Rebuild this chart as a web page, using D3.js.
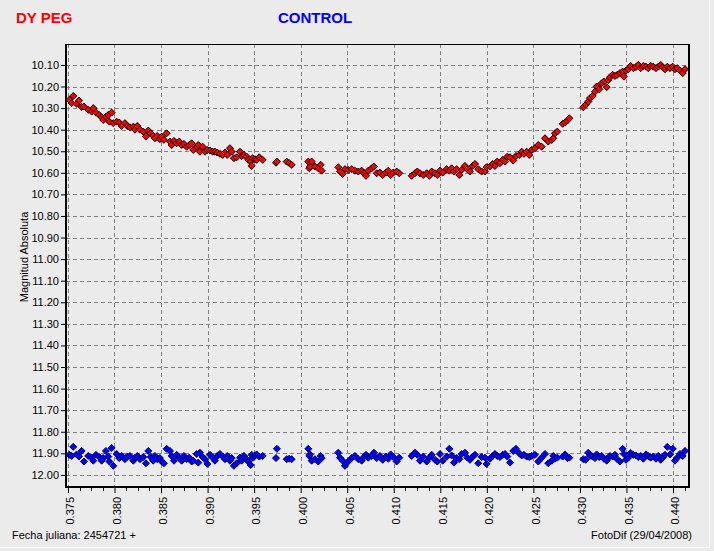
<!DOCTYPE html>
<html>
<head>
<meta charset="utf-8">
<script src="https://cdn.jsdelivr.net/npm/d3@7"></script>
<style>
  body { margin: 0; background: #ebebeb; }
  svg text { font-family: "Liberation Sans", Arial, sans-serif; }
</style>
</head>
<body>
<svg id="chart" width="714" height="551"></svg>
<script>
//============== data ===============//

// julian date fraction (JD 2454721 + t), same frames for both stars
const jd = [
  // run 1
  0.37514, 0.37540, 0.37557, 0.37593, 0.37618, 0.37647, 0.37672, 0.37718, 0.37755, 0.37772,
  0.37801, 0.37836, 0.37862, 0.37879, 0.37908, 0.37933, 0.37945, 0.37969, 0.37987, 0.38023,
  0.38051, 0.38077, 0.38112, 0.38137, 0.38166, 0.38202, 0.38220, 0.38245, 0.38274, 0.38309,
  0.38338, 0.38363, 0.38389, 0.38416, 0.38435, 0.38459, 0.38488, 0.38507, 0.38531, 0.38560,
  0.38596, 0.38614, 0.38639, 0.38668, 0.38696, 0.38722, 0.38746, 0.38775, 0.38803, 0.38829,
  0.38846, 0.38883, 0.38900, 0.38918, 0.38947, 0.38972, 0.38997, 0.39026, 0.39055, 0.39079,
  0.39104, 0.39133, 0.39162, 0.39187, 0.39211, 0.39240, 0.39259, 0.39283, 0.39312, 0.39348,
  0.39366, 0.39391, 0.39420, 0.39437, 0.39463, 0.39474, 0.39484, 0.39509, 0.39527, 0.39555,
  0.39592,
  // sparse
  0.39735, 0.39745, 0.39850, 0.39877, 0.39903,
  // run 2
  0.40082, 0.40093, 0.40100, 0.40118, 0.40154, 0.40189, 0.40215, 0.40226,
  // run 3
  0.40404, 0.40422, 0.40451, 0.40476, 0.40511, 0.40548, 0.40583, 0.40619, 0.40655, 0.40680,
  0.40702, 0.40726, 0.40763, 0.40787, 0.40817, 0.40852, 0.40881, 0.40916, 0.40941, 0.40967,
  0.40995, 0.41031, 0.41059,
  // run 4
  0.41193, 0.41228, 0.41253, 0.41282, 0.41317, 0.41354, 0.41382, 0.41408, 0.41443, 0.41468,
  0.41497, 0.41526, 0.41569, 0.41597, 0.41622, 0.41647, 0.41676, 0.41704, 0.41730, 0.41765,
  0.41790, 0.41819, 0.41848, 0.41873, 0.41908, 0.41945, 0.41980, 0.41998, 0.42034, 0.42063,
  0.42087, 0.42112, 0.42141, 0.42170, 0.42195, 0.42220, 0.42249, 0.42284, 0.42313, 0.42349,
  0.42374, 0.42399, 0.42428, 0.42456,
  // run 5
  0.42482, 0.42517, 0.42553, 0.42589, 0.42625, 0.42660, 0.42697, 0.42714, 0.42732, 0.42757,
  0.42815, 0.42840, 0.42865, 0.42886,
  // run 6
  0.43036, 0.43062, 0.43090, 0.43108, 0.43137, 0.43162, 0.43180, 0.43208, 0.43234, 0.43258,
  0.43288, 0.43305, 0.43323, 0.43352, 0.43377, 0.43401, 0.43430, 0.43459, 0.43473, 0.43495,
  0.43520, 0.43545, 0.43574, 0.43602, 0.43627, 0.43653, 0.43681, 0.43710, 0.43734, 0.43760,
  0.43788, 0.43817, 0.43842, 0.43868, 0.43889, 0.43914, 0.43939, 0.43968, 0.43997, 0.44021,
  0.44046, 0.44075, 0.44104, 0.44129
];

// DY Peg magnitudes
const dyPeg = [
  10.262, 10.277, 10.244, 10.280, 10.265, 10.295, 10.293, 10.308, 10.316, 10.300,
  10.321, 10.332, 10.342, 10.355, 10.340, 10.332, 10.363, 10.321, 10.370, 10.363,
  10.367, 10.383, 10.370, 10.383, 10.389, 10.386, 10.400, 10.383, 10.400, 10.409,
  10.432, 10.404, 10.417, 10.429, 10.440, 10.429, 10.444, 10.432, 10.447, 10.417,
  10.455, 10.471, 10.452, 10.463, 10.455, 10.471, 10.466, 10.479, 10.471, 10.463,
  10.494, 10.479, 10.471, 10.502, 10.479, 10.502, 10.494, 10.497, 10.502, 10.502,
  10.506, 10.512, 10.517, 10.506, 10.517, 10.486, 10.502, 10.532, 10.528, 10.502,
  10.522, 10.517, 10.525, 10.540, 10.548, 10.568, 10.532, 10.537, 10.540, 10.528,
  10.540,
  10.553, 10.548, 10.548, 10.555, 10.563,
  10.548, 10.579, 10.571, 10.548, 10.571, 10.579, 10.563, 10.590,
  10.574, 10.594, 10.605, 10.583, 10.587, 10.583, 10.590, 10.594, 10.590, 10.602,
  10.614, 10.590, 10.579, 10.571, 10.602, 10.599, 10.610, 10.599, 10.590, 10.610,
  10.599, 10.594, 10.602,
  10.614, 10.602, 10.594, 10.602, 10.610, 10.602, 10.614, 10.594, 10.602, 10.610,
  10.590, 10.599, 10.583, 10.590, 10.579, 10.594, 10.583, 10.610, 10.587, 10.568,
  10.583, 10.594, 10.568, 10.559, 10.583, 10.594, 10.594, 10.574, 10.571, 10.559,
  10.568, 10.548, 10.555, 10.540, 10.548, 10.525, 10.528, 10.543, 10.522, 10.517,
  10.502, 10.512, 10.502, 10.517,
  10.494, 10.486, 10.471, 10.479, 10.440, 10.455, 10.448, 10.440, 10.417, 10.409,
  10.373, 10.367, 10.358, 10.347,
  10.296, 10.285, 10.270, 10.254, 10.244, 10.224, 10.200, 10.213, 10.185, 10.177,
  10.203, 10.170, 10.157, 10.146, 10.151, 10.146, 10.138, 10.131, 10.154, 10.126,
  10.120, 10.105, 10.115, 10.110, 10.100, 10.115, 10.105, 10.108, 10.115, 10.105,
  10.108, 10.115, 10.108, 10.100, 10.111, 10.120, 10.108, 10.115, 10.108, 10.120,
  10.115, 10.126, 10.138, 10.120
];

// control star magnitudes
const control = [
  11.907, 11.912, 11.870, 11.905, 11.915, 11.889, 11.938, 11.912, 11.920, 11.934,
  11.907, 11.917, 11.934, 11.922, 11.889, 11.915, 11.938, 11.875, 11.958, 11.903,
  11.922, 11.912, 11.927, 11.915, 11.912, 11.934, 11.920, 11.912, 11.927, 11.917,
  11.946, 11.889, 11.917, 11.934, 11.912, 11.927, 11.922, 11.938, 11.946, 11.879,
  11.889, 11.912, 11.934, 11.907, 11.920, 11.934, 11.912, 11.927, 11.920, 11.938,
  11.934, 11.903, 11.943, 11.897, 11.917, 11.927, 11.949, 11.907, 11.920, 11.934,
  11.912, 11.903, 11.915, 11.927, 11.912, 11.934, 11.922, 11.958, 11.946, 11.920,
  11.934, 11.912, 11.927, 11.938, 11.954, 11.907, 11.920, 11.912, 11.905, 11.915,
  11.912,
  11.922, 11.879, 11.927, 11.925, 11.927,
  11.879, 11.912, 11.905, 11.934, 11.927, 11.938, 11.912, 11.922,
  11.897, 11.920, 11.934, 11.958, 11.938, 11.922, 11.912, 11.927, 11.934, 11.917,
  11.907, 11.920, 11.912, 11.897, 11.922, 11.912, 11.930, 11.915, 11.925, 11.905,
  11.917, 11.938, 11.920,
  11.912, 11.897, 11.907, 11.934, 11.915, 11.938, 11.920, 11.907, 11.930, 11.938,
  11.903, 11.934, 11.915, 11.879, 11.910, 11.943, 11.922, 11.927, 11.903, 11.897,
  11.920, 11.930, 11.915, 11.907, 11.946, 11.917, 11.920, 11.949, 11.925, 11.912,
  11.903, 11.912, 11.917, 11.907, 11.903, 11.915, 11.943, 11.889, 11.879, 11.900,
  11.910, 11.907, 11.915, 11.917,
  11.912, 11.907, 11.938, 11.920, 11.903, 11.946, 11.934, 11.912, 11.925, 11.920,
  11.915, 11.905, 11.922, 11.920,
  11.927, 11.930, 11.897, 11.912, 11.915, 11.922, 11.905, 11.917, 11.912, 11.925,
  11.934, 11.920, 11.912, 11.915, 11.907, 11.927, 11.938, 11.879, 11.903, 11.930,
  11.920, 11.898, 11.907, 11.910, 11.917, 11.912, 11.925, 11.905, 11.912, 11.920,
  11.915, 11.925, 11.912, 11.930, 11.920, 11.907, 11.870, 11.905, 11.879, 11.934,
  11.920, 11.903, 11.912, 11.889
];

const xTicks = [0.375, 0.380, 0.385, 0.390, 0.395, 0.400, 0.405, 0.410, 0.415, 0.420, 0.425, 0.430, 0.435, 0.440];
const yTicks = [10.10, 10.20, 10.30, 10.40, 10.50, 10.60, 10.70, 10.80, 10.90, 11.00,
                11.10, 11.20, 11.30, 11.40, 11.50, 11.60, 11.70, 11.80, 11.90, 12.00];

//============== layout ===============//

const svg = d3.select('#chart');
const box = {left: 66, right: 689, top: 44, bottom: 487};

const x = d3.scaleLinear().domain([0.37479, 0.44172]).range([box.left, box.right]);
const y = d3.scaleLinear().domain([10.003, 12.056]).range([box.top, box.bottom]);

svg.append('rect').attr('width', 714).attr('height', 551).attr('fill', '#ebebeb');
// panel edge
svg.append('path').attr('d', 'M0,547.5H709.5V0').attr('fill', 'none').attr('stroke', '#fdfdfd');

// titles
svg.append('text').attr('x', 16).attr('y', 23).text('DY PEG')
  .style('font-size', '15px').style('font-weight', 'bold').attr('fill', '#ff0000');
svg.append('text').attr('x', 278).attr('y', 23).text('CONTROL')
  .style('font-size', '15px').style('font-weight', 'bold').attr('fill', '#0000ff');

// grid
const crisp = v => Math.round(v) + 0.5;
svg.append('g').selectAll('line').data(yTicks).join('line')
  .attr('x1', box.left).attr('x2', box.right)
  .attr('y1', d => crisp(y(d))).attr('y2', d => crisp(y(d)))
  .attr('stroke', '#808080').attr('stroke-dasharray', '4,3');
svg.append('g').selectAll('line').data(xTicks).join('line')
  .attr('y1', box.top).attr('y2', box.bottom)
  .attr('x1', d => crisp(x(d))).attr('x2', d => crisp(x(d)))
  .attr('stroke', '#808080').attr('stroke-dasharray', '4,3');

// y axis
const yAxis = svg.append('g')
  .attr('transform', `translate(${box.left},0)`)
  .call(d3.axisLeft(y).tickValues(yTicks).tickFormat(d3.format('.2f')).tickSize(5).tickPadding(2));
yAxis.select('.domain').remove();
yAxis.selectAll('text').style('font-size', '11px').attr('fill', '#000').style('font-family', '"Liberation Sans", Arial, sans-serif');

// x axis
const xAxis = svg.append('g')
  .attr('transform', `translate(0,${box.bottom})`)
  .call(d3.axisBottom(x).tickValues(xTicks).tickFormat(d3.format('.3f')).tickSize(6));
xAxis.select('.domain').remove();
xAxis.selectAll('text')
  .style('font-size', '11px').attr('fill', '#000').style('font-family', '"Liberation Sans", Arial, sans-serif')
  .attr('transform', 'rotate(-90)')
  .attr('text-anchor', 'end')
  .attr('x', -10).attr('y', 2).attr('dy', '0.35em');

// minor x ticks
const minor = d3.range(0.37625, 0.4417, 0.00125).filter(v => Math.abs(v / 0.005 - Math.round(v / 0.005)) > 0.01);
svg.append('g').selectAll('line').data(minor).join('line')
  .attr('x1', d => crisp(x(d))).attr('x2', d => crisp(x(d)))
  .attr('y1', box.bottom).attr('y2', box.bottom + 4)
  .attr('stroke', '#000');

// frame
svg.append('line').attr('x1', box.left).attr('x2', box.right).attr('y1', box.top + 0.5).attr('y2', box.top + 0.5).attr('stroke', '#000');
svg.append('line').attr('x1', box.right).attr('x2', box.right).attr('y1', box.top).attr('y2', box.bottom + 1).attr('stroke', '#000').attr('stroke-width', 2);
svg.append('line').attr('x1', box.left).attr('x2', box.left).attr('y1', box.top).attr('y2', box.bottom + 1).attr('stroke', '#000').attr('stroke-width', 2);
svg.append('line').attr('x1', box.left - 1).attr('x2', box.right + 1).attr('y1', box.bottom).attr('y2', box.bottom).attr('stroke', '#000').attr('stroke-width', 2);

// points
const diamond = 'M0,-3.5L3.5,0L0,3.5L-3.5,0Z';
svg.append('g').selectAll('path').data(jd).join('path')
  .attr('d', diamond)
  .attr('transform', (d, i) => `translate(${x(d)},${y(dyPeg[i])})`)
  .attr('fill', '#ff0000').attr('stroke', '#000').attr('stroke-width', 1);
svg.append('g').selectAll('path').data(jd).join('path')
  .attr('d', diamond)
  .attr('transform', (d, i) => `translate(${x(d)},${y(control[i])})`)
  .attr('fill', '#0000ff').attr('stroke', '#00005a').attr('stroke-width', 1);

// labels
svg.append('text').attr('transform', 'translate(28,257) rotate(-90)')
  .attr('text-anchor', 'middle').style('font-size', '11px').text('Magnitud Absoluta');
svg.append('text').attr('x', 12).attr('y', 539).style('font-size', '11px').text('Fecha juliana: 2454721 +');
svg.append('text').attr('x', 692).attr('y', 539).attr('text-anchor', 'end').style('font-size', '11px').text('FotoDif (29/04/2008)');
</script>
</body>
</html>
